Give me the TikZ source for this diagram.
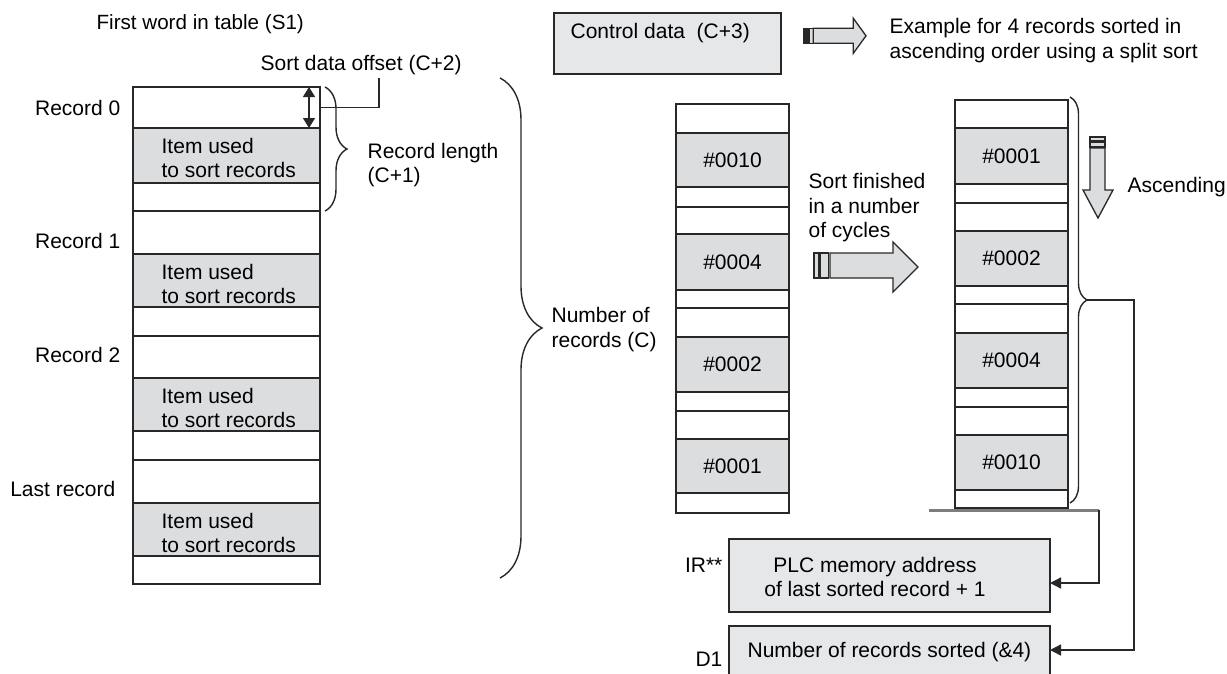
\documentclass[tikz,border=0pt]{standalone}
\usepackage{fontspec}
\setmainfont{Liberation Sans}
\usetikzlibrary{arrows.meta,decorations.pathreplacing}
\definecolor{cellgray}{RGB}{220,221,223}
\definecolor{boxgray}{RGB}{230,231,232}
\definecolor{linec}{RGB}{40,40,40}
\definecolor{thickgray}{RGB}{125,125,125}
\newcommand{\cellnode}[7]{%
  \node[#6, minimum width={(#4-#2)*1pt}, minimum height={(#5-#3)*1pt}] (#1) at ({(#2+#4)/2},{(#3+#5)/2}) {#7};}
\begin{document}
\begin{tikzpicture}[x=1pt,y=-1pt, line width=1.3pt, draw=linec,
  every node/.style={font=\fontsize{21}{24}\selectfont, inner sep=0pt, text=black},
  cw/.style={draw=linec, fill=white, line width=1.7pt},
  cg/.style={draw=linec, fill=cellgray, line width=1.7pt},
  bx/.style={draw=linec, fill=boxgray, line width=1.7pt},
  lw/.style={anchor=base west},
  le/.style={anchor=base east},
  lc/.style={anchor=base},
  conn/.style={draw=linec, line width=1.4pt, -{Triangle[length=11pt,width=11pt]}},
  dbl/.style={draw=linec, line width=1.4pt, {Triangle[length=10pt,width=12pt]}-{Triangle[length=10pt,width=12pt]}},
  brc/.style={draw=linec, line width=1.4pt, decorate},
  blk/.style={draw=linec, fill=cellgray, line width=1.3pt, line join=miter}
]
\clip (0,0) rectangle (1227,673);
\useasboundingbox (0,0) rectangle (1227,673);
\fill[white] (0,0) rectangle (1227,673);

% ---------- left table ----------
\cellnode{a0}{133}{87}{320}{128}{cw}{}
\cellnode{a0g}{133}{128}{320}{183}{cg}{}
\cellnode{a0s}{133}{183}{320}{211}{cw}{}
\cellnode{a1}{133}{211}{320}{254}{cw}{}
\cellnode{a1g}{133}{254}{320}{307}{cg}{}
\cellnode{a1s}{133}{307}{320}{336}{cw}{}
\cellnode{a2}{133}{336}{320}{378}{cw}{}
\cellnode{a2g}{133}{378}{320}{431}{cg}{}
\cellnode{a2s}{133}{431}{320}{460}{cw}{}
\cellnode{a3}{133}{460}{320}{503}{cw}{}
\cellnode{a3g}{133}{503}{320}{556}{cg}{}
\cellnode{a3s}{133}{556}{320}{584}{cw}{}

\foreach \t/\n in {128/i0,254/i1,378/i2,503/i3}{
  \node[lw] (\n a) at (161,\t+25.5) {Item used};
  \node[lw] (\n b) at (161,\t+49.5) {to sort records};
}

\node[le] (lr0) at (121,115) {Record 0};
\node[le] (lr1) at (121,248) {Record 1};
\node[le] (lr2) at (121,362) {Record 2};
\node[le] (lr3) at (116,496) {Last record};

\node[lw, font=\fontsize{20.6}{24}\selectfont] (s1) at (96,29) {First word in table (S1)};
\node[lw] (sdo) at (260,70) {Sort data offset (C+2)};
\coordinate (sdoend) at (379,78);
\draw[draw=linec, line width=1.4pt] (a0.east) -| (sdoend);
\coordinate (offA) at (309,87);
\coordinate (offB) at (309,128);
\draw[dbl] (offA) -- (offB);

\draw[brc, decoration={brace, amplitude=22pt}] (325,87) -- (325,211);
\node[lw] (rl1) at (367,158) {Record length};
\node[lw] (rl2) at (367,182) {(C+1)};

\draw[brc, decoration={brace, amplitude=42pt}] (500,78) -- (500,578);
\node[lw] (nr1) at (551,322) {Number of};
\node[lw] (nr2) at (551,347) {records (C)};

% ---------- control data ----------
\cellnode{ctrl}{554}{13}{781}{74}{bx}{}
\node[lw] (ctrlt) at (570,38.3) {Control data\ \ (C+3)};
\filldraw[draw=linec, fill=linec, line width=1pt] (803.3,28.3) rectangle (809.3,43.3);
\draw[blk] (809.3,28.3) rectangle (813.3,43.3);
\draw[blk] (813.3,28.3) -- (853.3,28.3) -- (853.3,18.3) -- (866,35.8) -- (853.3,53.3) -- (853.3,43.3) -- (813.3,43.3) -- cycle;
\node[lw] (ex1) at (889,33) {Example for 4 records sorted in};
\node[lw] (ex2) at (889,58) {ascending order using a split sort};

% ---------- middle column ----------
\cellnode{b0}{676}{104}{789}{133}{cw}{}
\cellnode{b0g}{676}{133}{789}{187}{cg}{\#0010}
\cellnode{b0s}{676}{187}{789}{207}{cw}{}
\cellnode{b1}{676}{207}{789}{234}{cw}{}
\cellnode{b1g}{676}{234}{789}{290}{cg}{\#0004}
\cellnode{b1s}{676}{290}{789}{308}{cw}{}
\cellnode{b2}{676}{308}{789}{337}{cw}{}
\cellnode{b2g}{676}{337}{789}{392}{cg}{\#0002}
\cellnode{b2s}{676}{392}{789}{411}{cw}{}
\cellnode{b3}{676}{411}{789}{439}{cw}{}
\cellnode{b3g}{676}{439}{789}{493}{cg}{\#0001}
\cellnode{b3s}{676}{493}{789}{513}{cw}{}

\node[lw] (sf1) at (808,188) {Sort finished};
\node[lw] (sf2) at (808,213) {in a number};
\node[lw] (sf3) at (808,237) {of cycles};
\draw[blk] (814,253) rectangle (819,278);
\draw[blk] (820.5,253) rectangle (828.5,278);
\draw[blk] (830,253) -- (893,253) -- (893,242) -- (918,267) -- (893,292) -- (893,278) -- (830,278) -- cycle;

% ---------- right column ----------
\cellnode{c0}{955}{100}{1068}{128}{cw}{}
\cellnode{c0g}{955}{128}{1068}{184}{cg}{\#0001}
\cellnode{c0s}{955}{184}{1068}{203}{cw}{}
\cellnode{c1}{955}{203}{1068}{231}{cw}{}
\cellnode{c1g}{955}{231}{1068}{286}{cg}{\#0002}
\cellnode{c1s}{955}{286}{1068}{304}{cw}{}
\cellnode{c2}{955}{304}{1068}{333}{cw}{}
\cellnode{c2g}{955}{333}{1068}{388}{cg}{\#0004}
\cellnode{c2s}{955}{388}{1068}{407}{cw}{}
\cellnode{c3}{955}{407}{1068}{435}{cw}{}
\cellnode{c3g}{955}{435}{1068}{490}{cg}{\#0010}
\cellnode{c3s}{955}{490}{1068}{508}{cw}{}

\draw[brc, decoration={brace, amplitude=17pt}] (1070,97) -- (1070,503);
\coordinate (btip) at (1087,300);

% ascending arrow
\draw[blk] (1090,137) rectangle (1105,141);
\draw[blk] (1090,142.5) rectangle (1105,147);
\draw[blk] (1090,148) -- (1090,190) -- (1083,190) -- (1098,218) -- (1113,190) -- (1105,190) -- (1105,148) -- cycle;
\node[lw] (asc) at (1127,192) {Ascending};

% ---------- result boxes ----------
\cellnode{irbox}{729}{539}{1050}{612}{bx}{}
\node[lc] (pl1) at (875,572) {PLC memory address};
\node[lc] (pl2) at (875,596) {of last sorted record + 1};
\node[le] (irl) at (723,572) {IR**};

\cellnode{d1box}{729}{626}{1050}{700}{bx}{}
\node[lw] (nrs) at (747,657) {Number of records sorted (\&4)};
\node[le] (d1l) at (723,666) {D1};

\coordinate (gl1) at (929,510);
\coordinate (gl2) at (1099,510);
\coordinate (irin) at (1050,583);
\coordinate (d1in) at (1050,650);
\coordinate (vx) at (1134,300);
\draw[draw=thickgray, line width=3pt] (gl1) -- (gl2);
\draw[conn] (gl2) |- (irin);
\draw[conn] (btip) -- (vx) |- (d1in);
\end{tikzpicture}
\end{document}
